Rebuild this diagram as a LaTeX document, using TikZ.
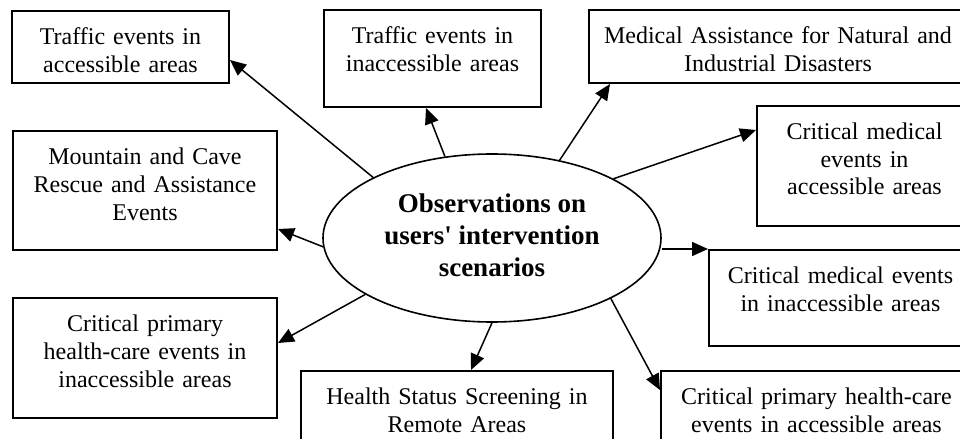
\documentclass[tikz,border=0pt]{standalone}
\usepackage{fontspec}
\setmainfont{Liberation Serif}[Ligatures=TeXOff]
\usetikzlibrary{shapes.geometric,arrows.meta}

\begin{document}
\begin{tikzpicture}[x=0.5pt, y=-0.5pt, font=\fontsize{12}{14}\selectfont,
		box/.style 2 args={draw, line width=1pt, anchor=north west, align=center, inner sep=0pt,
			text width=#1, minimum width=#1, text height=16.5pt, text depth=#2},
		arr/.style={line width=0.75pt, -{Triangle[length=8pt, width=7pt]}}]
	% one unit is one pixel of the 960 x 439 sheet, y runs downwards
	\useasboundingbox (0, 0) rectangle (960, 439);
	\clip (0, 0) rectangle (960, 439);
	% centre
	\node[ellipse, draw, line width=0.8pt, minimum width=169pt, minimum height=84pt, inner sep=0pt,
		align=center, font=\fontsize{13.5}{16}\selectfont\bfseries] (obs) at (492, 238)
		{Observations on\\users' intervention\\scenarios\rule[-3pt]{0pt}{0pt}};
	% left column
	\node[box={108.5pt}{19.5pt}] (trafAcc) at (11, 10) {Traffic events in\\accessible areas};
	\node[box={132pt}{43pt}] (mountain) at (12, 130) {Mountain and Cave\\Rescue and Assistance\\Events};
	\node[box={132pt}{43.5pt}] (primInacc) at (12, 297) {Critical primary\\health-care events in\\inaccessible areas};
	% top and bottom
	\node[box={108.5pt}{32pt}] (trafInacc) at (323, 9) {Traffic events in\\inaccessible areas};
	\node[box={189pt}{20pt}] (disaster) at (588, 9) {Medical Assistance for Natural and\\Industrial Disasters};
	\node[box={156pt}{28.5pt}] (screening) at (300, 370) {Health Status Screening in\\Remote Areas};
	% right column, cut by the sheet edge
	\node[box={107.5pt}{43.5pt}] (medAcc) at (756, 105) {Critical medical\\events in\\accessible areas};
	\node[box={131.5pt}{31.5pt}] (medInacc) at (708, 249) {Critical medical events\\in inaccessible areas};
	\node[box={155.5pt}{28.5pt}] (primAcc) at (660, 370) {Critical primary health-care\\events in accessible areas};
	% arrows out of the ellipse
	\draw[arr] (obs.153.2) -- ([yshift=-6.5pt]trafAcc.east);
	\draw[arr] (obs.183) -- ([yshift=11pt]mountain.south east);
	\draw[arr] (obs.204.5) -- ([yshift=-23pt]primInacc.north east);
	\draw[arr] (obs.120) -- ([xshift=-3.25pt]trafInacc.south);
	\draw[arr] (obs.49.5) -- ([xshift=11pt]disaster.south west);
	\draw[arr] (obs.-90) -- ([xshift=7pt]screening.north);
	\draw[arr] (obs.26.6) -- ([yshift=-12.5pt]medAcc.north west);
	\draw[arr] (obs.east |- medInacc.north west) -- (medInacc.north west);
	\draw[arr] (obs.-27.7) -- ([yshift=-10pt]primAcc.north west);
\end{tikzpicture}
\end{document}
